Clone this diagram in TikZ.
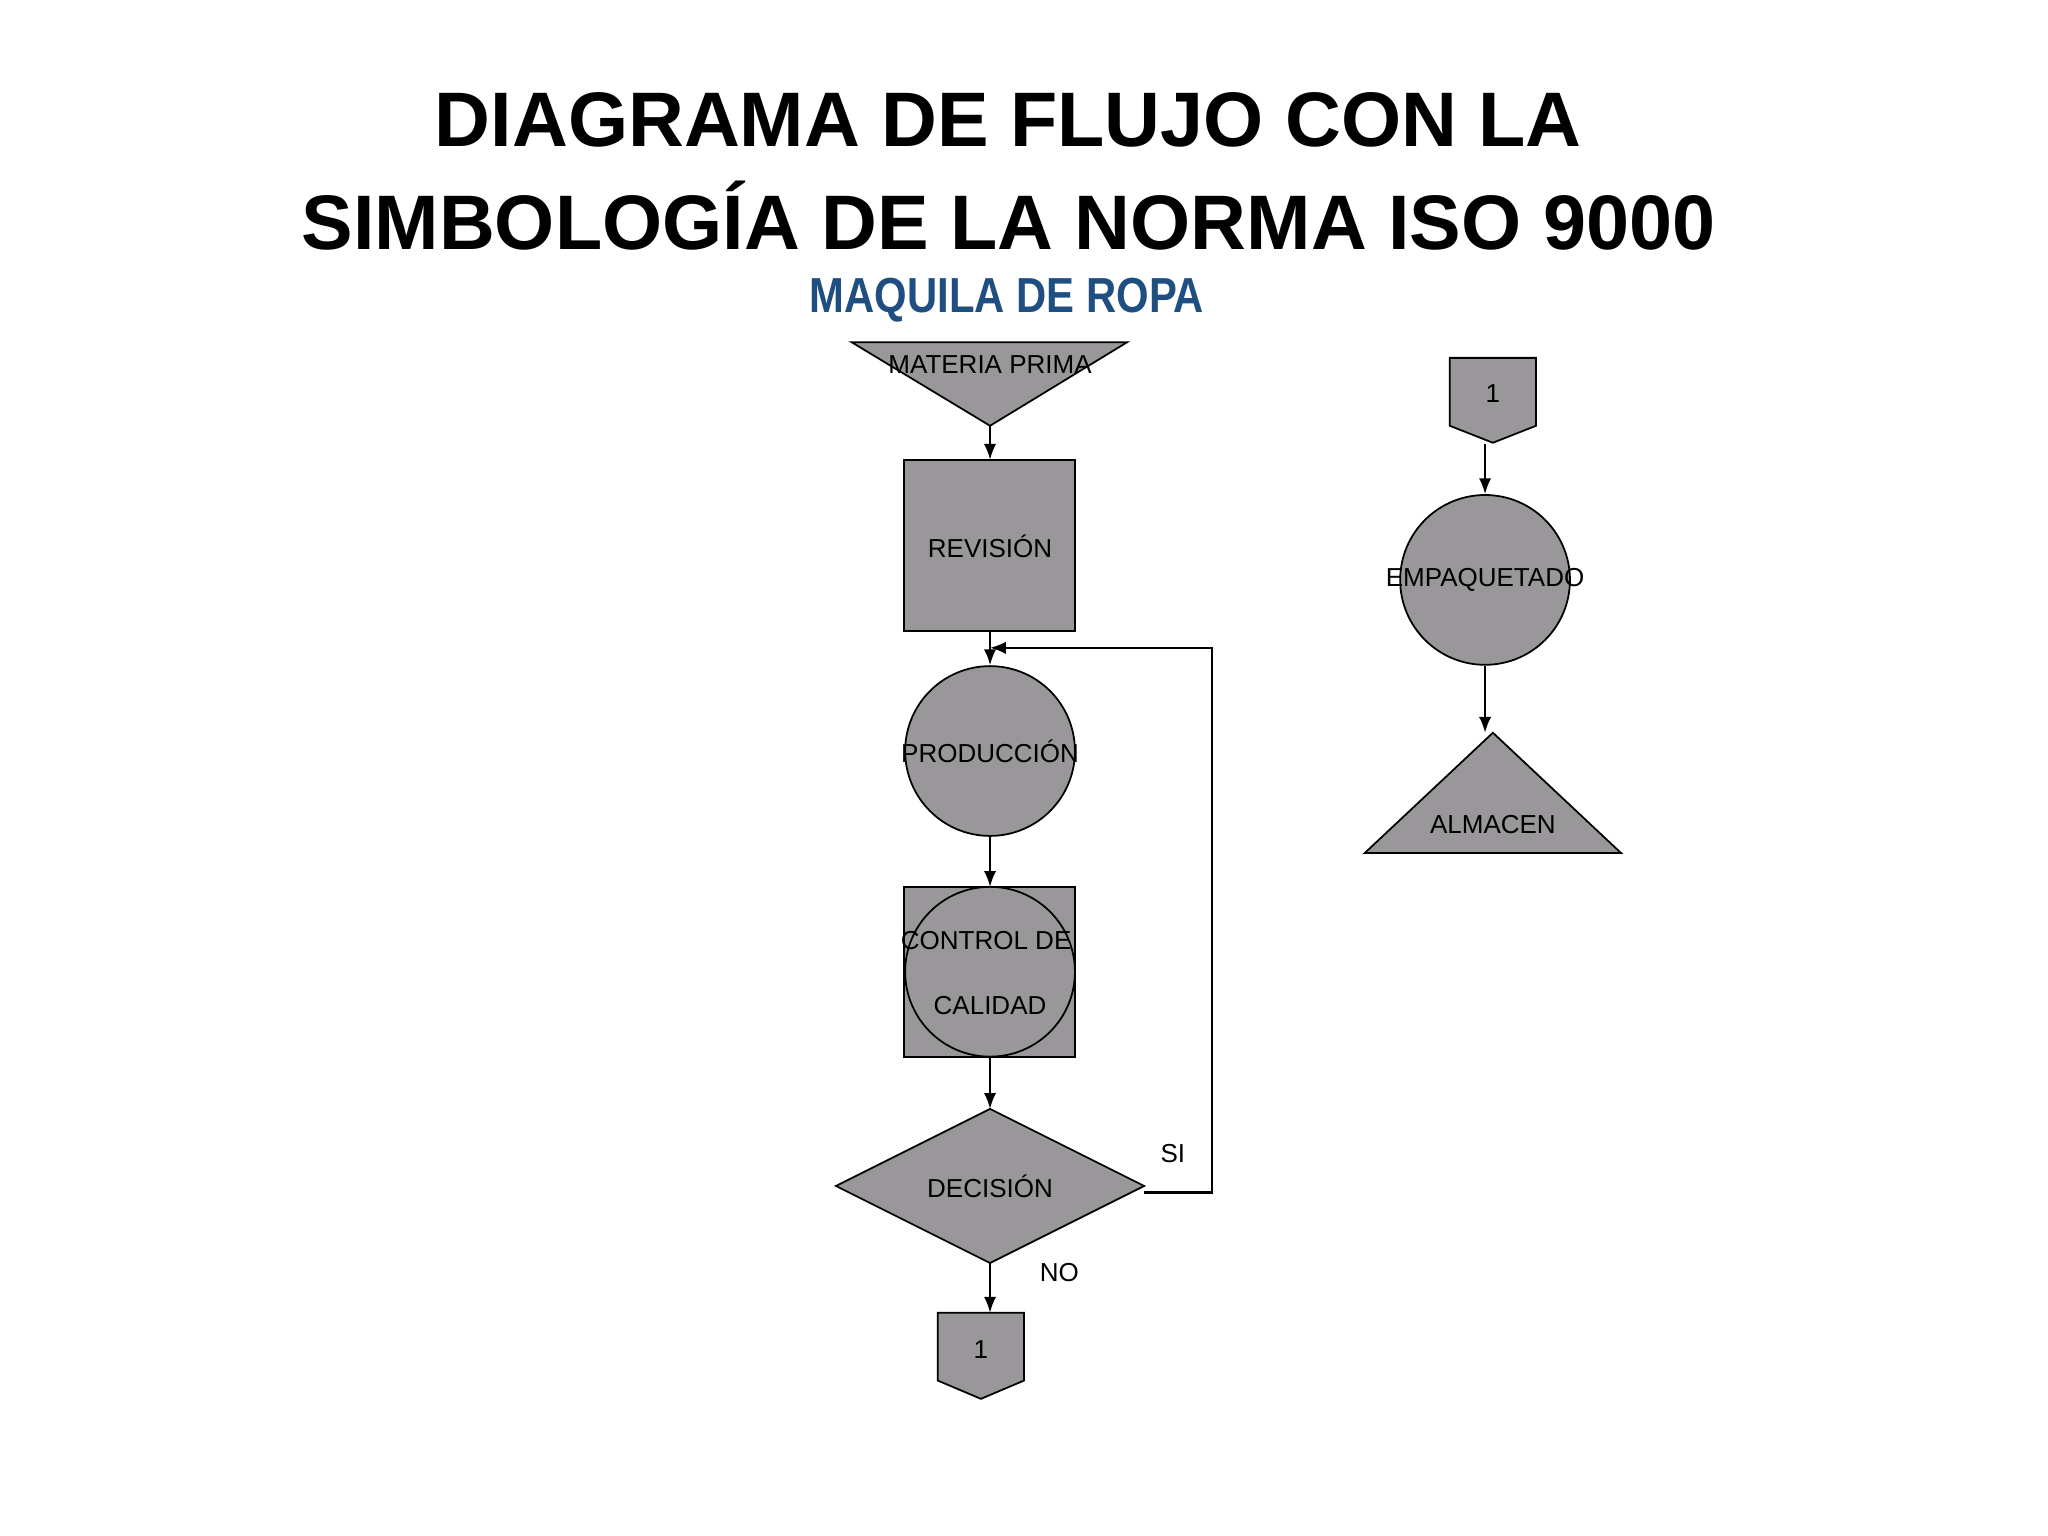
\documentclass[tikz,border=0pt]{standalone}
\usepackage{fontspec}
\setmainfont{Liberation Sans}
\usetikzlibrary{arrows.meta}
\definecolor{shp}{HTML}{999799}
\definecolor{sub}{HTML}{1F4E80}
\begin{document}
\begin{tikzpicture}[x=0.01306cm,y=-0.01306cm,
  sh/.style={fill=shp,draw=black,line width=0.5pt},
  lab/.style={font=\fontsize{7.4}{8}\selectfont,inner sep=0pt},
  arr/.style={-{Latex[length=4.5pt,width=3.5pt]},line width=0.6pt}]
\useasboundingbox (0,0) rectangle (1568,1176);
\node[font=\fontsize{22}{26}\selectfont\bfseries] (t1) at (772,92) {DIAGRAMA DE FLUJO CON LA};
\node[font=\fontsize{22}{26}\selectfont\bfseries] (t2) at (772,165) {SIMBOLOGÍA DE LA NORMA ISO 9000};
\node[font=\fontsize{14}{16}\selectfont\bfseries,text=sub,xscale=0.85] (st) at (771,230) {MAQUILA DE ROPA};
% materia prima
\draw[sh] (652,262) -- (863,262) -- (758,326) -- cycle;
\coordinate (mp) at (758,326);
\node[lab] (mpl) at (758,279) {MATERIA PRIMA};
% revision
\draw[sh] (692,352) rectangle (823,483);
\node[lab] (rev) at (758,418) {REVISIÓN};
\coordinate (revt) at (758,352); \coordinate (revb) at (758,483);
% produccion
\node[sh,circle,minimum size=130\pgflinewidth,inner sep=0pt,minimum size=1.698cm] (prod) at (758,575) {};
\node[lab] at (prod) {PRODUCCIÓN};
% control
\draw[sh] (692,679) rectangle (823,809);
\node[sh,circle,inner sep=0pt,minimum size=1.698cm] (ctrl) at (758,744) {};
\node[lab] (c1) at (755,720) {CONTROL DE};
\node[lab] (c2) at (758,770) {CALIDAD};
\coordinate (ctt) at (758,679); \coordinate (ctb) at (758,809);
% decision
\draw[sh] (640,908) -- (758,849) -- (876,908) -- (758,967) -- cycle;
\node[lab] (dec) at (758,908) {DECISIÓN};
\coordinate (dt) at (758,849); \coordinate (db) at (758,967); \coordinate (dr) at (876,913);
% connector 1 bottom
\draw[sh] (718,1005) -- (784,1005) -- (784,1057) -- (751,1071) -- (718,1057) -- cycle;
\node[lab] (k1) at (751,1033) {1};
\coordinate (k1t) at (758,1005);
% right column
\draw[sh] (1110,274) -- (1176,274) -- (1176,326) -- (1143,339) -- (1110,326) -- cycle;
\node[lab] (k2) at (1143,301) {1};
\coordinate (k2b) at (1137,340);
\node[sh,circle,inner sep=0pt,minimum size=1.698cm] (emp) at (1137,444) {};
\node[lab] at (emp) {EMPAQUETADO};
\draw[sh] (1045,653) -- (1143,561) -- (1241,653) -- cycle;
\coordinate (alt) at (1137,561);
\node[lab] (alm) at (1143,631) {ALMACEN};
% arrows
\draw[arr] (mp) -- (revt);
\draw[arr] (revb) -- (prod.north);
\draw[arr] (prod.south) -- (ctt);
\draw[arr] (ctb) -- (dt);
\draw[arr] (db) -- (k1t);
\coordinate (lp) at (758,496);
\draw[arr] (dr) -- (928,913) -- (928,496) -- (lp);
\node[lab] (si) at (898,883) {SI};
\node[lab] (no) at (811,974) {NO};
\draw[arr] (k2b) -- (emp.north);
\draw[arr] (emp.south) -- (alt);
\end{tikzpicture}
\end{document}
